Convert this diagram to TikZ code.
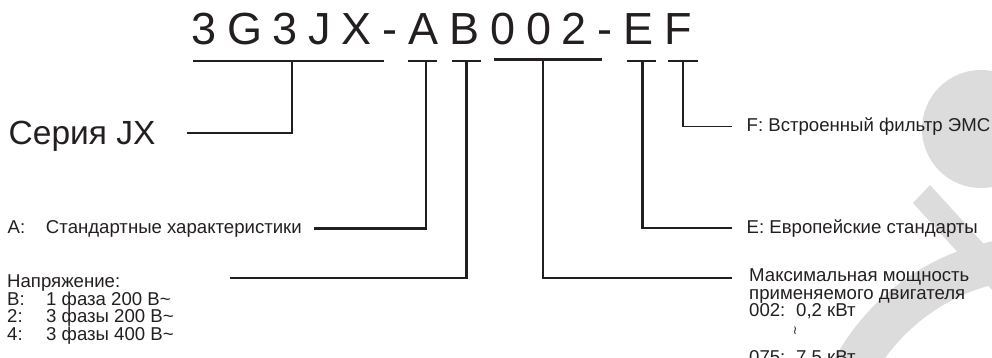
\documentclass[tikz,border=0pt]{standalone}
\usepackage{fontspec}
\setmainfont{Liberation Sans}
\newfontfamily\djv{DejaVu Sans}
\definecolor{ink}{RGB}{35,31,32}
\definecolor{wm}{RGB}{220,220,220}
\newcommand\tsp{\kern10.8pt}
\begin{document}
\begin{tikzpicture}[x=1pt,y=-1pt,
  bar/.style={line width=2.6pt, draw=ink},
  conn/.style={line width=2.1pt, draw=ink},
  thinconn/.style={line width=1.6pt, draw=ink},
  lbl/.style={anchor=base west, inner sep=0pt, text=ink, font=\fontsize{18.6}{17.6}\selectfont, align=left},
]
\useasboundingbox (0,0) rectangle (992,358);
% watermark
\begin{scope}
\clip (0,0) rectangle (992,358);
\fill[wm] (981,129) circle (59pt);
\fill[wm] (930,185) -- (992,253) -- (992,290) -- (913,203) -- cycle;
\fill[wm, even odd rule] (1040,470) circle (233.6pt) (1040,470) circle (191.2pt);
\end{scope}
% code
\node[anchor=base west, inner sep=0pt, text=ink, font=\fontsize{45}{54}\selectfont] (code) at (191,45)
  {3\tsp G\tsp 3\tsp J\tsp X\tsp -\tsp A\tsp B\tsp 0\tsp 0\tsp 2\tsp -\tsp E\tsp F};
% bars
\draw[bar] (193,61) -- (384,61);
\draw[bar] (408,61) -- (437,61);
\draw[bar] (452,61) -- (481,61);
\draw[bar] (494,59.3) -- (602,59.3);
\draw[bar] (627,61) -- (656,61);
\draw[bar] (668,61) -- (698,61);
% stem coordinates
\coordinate (sS) at (292,61);
\coordinate (sA) at (426,61);
\coordinate (sB) at (466.5,61);
\coordinate (sP) at (543,59.3);
\coordinate (sE) at (642.5,61);
\coordinate (sF) at (683,61);
% connector ends
\coordinate (eS) at (187,133);
\coordinate (eA) at (314,228.5);
\coordinate (eB) at (230,278);
\coordinate (eP) at (732,278.3);
\coordinate (eE) at (732,228);
\coordinate (eF) at (732,126.5);
% labels
\node[lbl, font=\fontsize{33.5}{40}\selectfont] (series) at (8.5,145) {Серия JX};
\node[lbl] (tA) at (7.5,233) {\makebox[38.3pt][l]{A:}Стандартные характеристики};
\node[lbl] (tB) at (7,340.5) {Напряжение:\\
  \makebox[39pt][l]{B:}1 фаза 200 В\textasciitilde\\
  \makebox[39pt][l]{2:}3 фазы 200 В\textasciitilde\\
  \makebox[39pt][l]{4:}3 фазы 400 В\textasciitilde};
\node[lbl] (tF) at (746.5,131.7) {F: Встроенный фильтр ЭМС};
\node[lbl] (tE) at (746.5,233) {E: Европейские стандарты};
\node[lbl] (tP) at (749,316.9) {Максимальная мощность\\
  применяемого двигателя\\
  \makebox[47pt][l]{002:}0,2 кВт};
\node[inner sep=0pt, text=ink, font=\djv\fontsize{12}{13}\selectfont] (tilde) at (795,331) {≀};
\node[lbl] (tP2) at (749,363) {\makebox[47pt][l]{075:}7,5 кВт};
% connectors
\draw[conn] (sS) |- (eS);
\draw[conn] (sA) |- (eA);
\draw[conn] (sB) |- (eB);
\draw[conn] (sP) |- (eP);
\draw[conn] (sE) |- (eE);
\draw[thinconn] (sF) |- (eF);
\end{tikzpicture}
\end{document}
